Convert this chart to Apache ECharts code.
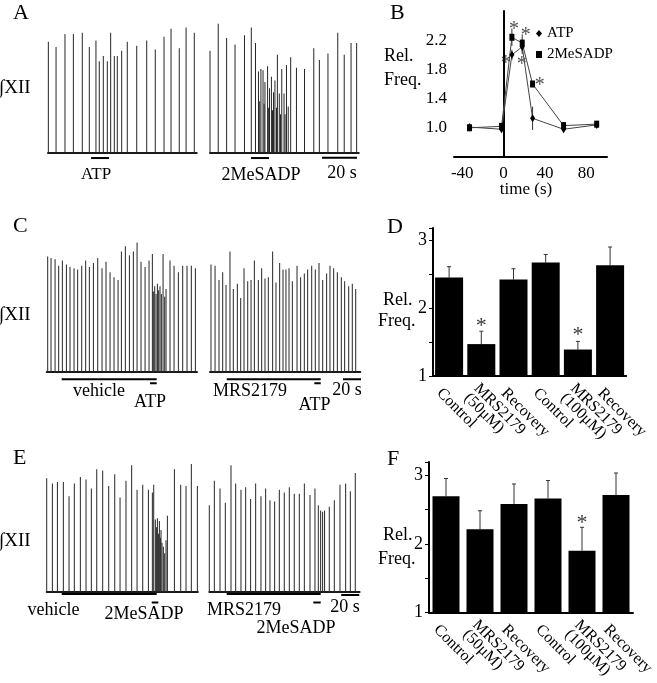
<!DOCTYPE html>
<html>
<head>
<meta charset="utf-8">
<script src="https://cdn.jsdelivr.net/npm/echarts@6/dist/echarts.min.js"></script>
<style>
html, body { margin: 0; padding: 0; background: #fff; }
#main { width: 657px; height: 683px; }
</style>
</head>
<body>
<div id="main"></div>
<script>
const SERIF = '"Liberation Serif", "Times New Roman", serif';

// ---- XII nerve traces: burst times (s) and amplitudes (a.u., tallest = 100)
const a1Time = [0.2, 4.6, 9.7, 14.5, 19.6, 23.6, 27.4, 29.3, 31.6, 33.9, 35.8, 37.9, 39.6, 42.1, 45.3, 50.7, 56.4, 61.3, 66.3, 70.3, 75.0, 78.9, 83.6];
const a1Amp = [86, 82, 92, 92, 93, 82, 87, 71, 75, 71, 93, 75, 75, 79, 86, 83, 87, 80, 90, 96, 81, 97, 93];
const a2Time = [0.0, 4.7, 9.5, 14.3, 19.7, 23.6, 26.0, 27.7, 28.4, 29.1, 30.3, 30.9, 31.4, 32.9, 33.5, 34.0, 35.1, 35.7, 36.3, 37.1, 38.0, 38.5, 39.6, 40.3, 41.0, 42.3, 42.9, 43.7, 44.7, 46.1, 49.4, 54.0, 59.3, 62.5, 67.4, 73.0, 76.7, 80.6, 83.8];
const a2Amp = [79, 100, 89, 84, 91, 97, 85, 63, 40, 65, 64, 38, 55, 67, 35, 50, 59, 33, 47, 56, 35, 76, 46, 30, 65, 46, 30, 68, 36, 74, 66, 65, 81, 72, 77, 93, 76, 85, 85];
const c1Time = [1.1, 4.8, 9.3, 13.3, 17.4, 21.9, 25.9, 30.4, 34.4, 38.9, 43.3, 47.4, 51.9, 56.7, 61.5, 65.9, 70.4, 74.8, 79.3, 83.0, 87.4, 91.9, 96.3, 100.4, 104.8, 109.3, 113.7, 117.4, 118.5, 120.0, 121.5, 123.0, 124.4, 125.9, 127.4, 129.3, 131.1, 132.6, 137.0, 141.5, 146.3, 151.1, 155.9, 160.7, 165.2];
const c1Amp = [89, 88, 87, 82, 86, 83, 81, 80, 79, 82, 86, 81, 84, 88, 80, 85, 77, 73, 71, 93, 97, 90, 93, 100, 85, 81, 86, 91, 62, 66, 60, 68, 63, 66, 60, 91, 58, 64, 86, 82, 77, 82, 82, 82, 80];
const c2Time = [1.1, 5.6, 10.0, 14.1, 17.8, 22.2, 25.9, 30.4, 34.1, 37.8, 41.9, 45.6, 49.3, 53.7, 57.4, 61.1, 64.8, 69.6, 73.3, 77.4, 81.1, 84.4, 87.8, 91.5, 96.7, 100.7, 104.8, 108.5, 113.0, 117.0, 121.1, 125.2, 129.6, 133.3, 137.4, 141.5, 145.9, 149.6, 154.1, 158.1, 161.9];
const c2Amp = [83, 82, 71, 77, 67, 93, 64, 68, 57, 80, 70, 71, 86, 71, 80, 72, 73, 93, 69, 84, 79, 79, 80, 70, 82, 73, 76, 79, 82, 79, 84, 71, 76, 82, 80, 77, 73, 70, 66, 68, 64];
const e1Time = [0.0, 6.3, 11.9, 18.5, 24.8, 30.7, 37.4, 43.7, 49.6, 55.6, 62.2, 68.9, 75.6, 81.5, 88.1, 94.4, 100.4, 106.7, 113.0, 117.4, 118.9, 120.7, 121.9, 123.0, 124.1, 125.2, 126.3, 127.0, 128.1, 129.6, 131.1, 132.6, 134.1, 141.9, 148.9, 154.8, 160.7, 167.4];
const e1Amp = [88, 84, 85, 85, 74, 84, 89, 87, 80, 95, 94, 82, 91, 73, 86, 98, 79, 83, 79, 77, 83, 56, 50, 57, 45, 55, 42, 48, 38, 35, 30, 40, 59, 95, 83, 82, 99, 82];
const e2Time = [0.0, 5.6, 11.9, 17.8, 24.1, 29.3, 35.2, 40.4, 45.9, 51.5, 57.4, 62.6, 67.4, 72.6, 77.8, 83.3, 88.9, 94.4, 100.0, 105.6, 111.9, 117.4, 121.1, 123.7, 125.9, 128.1, 133.3, 138.9, 145.2, 151.5, 156.7, 162.2];
const e2Amp = [67, 86, 80, 69, 98, 84, 79, 81, 72, 84, 74, 80, 71, 70, 79, 77, 81, 76, 76, 84, 75, 80, 67, 63, 62, 63, 66, 71, 83, 84, 78, 92];

// drug application / scale bars [start, end] in s
const a1Atp = [24.6, 34.9];
const a2Mes = [23.4, 33.7];
const aScale = [64, 84];
const c1Vehicle = [16.7, 122.2];
const c1Atp = [114.8, 122.2];
const c2Mrs = [18.6, 123.0];
const c2Atp = [115.9, 123.0];
const cScale = [147.8, 167.8];
const e1Vehicle = [16.7, 122.2];
const e1Mes = [116.7, 124.0];
const e2Mrs = [19.3, 123.8];
const e2Mes = [115.6, 123.8];
const eScale = [146.6, 166.6];

// ---- B: relative frequency time course
const bTime = [-33, -2, 8, 18, 28, 58, 90];
const bAtp = [1.01, 0.98, 2.0, 2.11, 1.13, 0.98, 1.04];
const bAtpErr = [0.03, 0.03, 0.07, 0.1, 0.16, 0.04, 0.03];
const bMes = [1.0, 1.02, 2.24, 2.16, 1.6, 1.03, 1.05];
const bMesErr = [0.03, 0.04, 0.12, 0.12, 0.04, 0.05, 0.03];
const bStars = [[10, 2.35], [2, 1.88], [21.4, 2.26], [17.5, 1.87], [35, 1.58]];

// ---- D, F: bar charts
const cats = ['Control', 'MRS2179\n(50μM)', 'Recovery', 'Control', 'MRS2179\n(100μM)', 'Recovery'];
const dMean = [2.45, 1.47, 2.42, 2.67, 1.39, 2.63];
const dErr = [0.16, 0.19, 0.16, 0.12, 0.12, 0.27];
const dStars = [[1, 1.73], [4, 1.6]];
const fMean = [2.69, 2.21, 2.58, 2.66, 1.90, 2.71];
const fErr = [0.26, 0.27, 0.29, 0.26, 0.34, 0.32];
const fStars = [[4, 2.3]];

const K = 1.293; // px per a.u. on the traces
const traces = [
  { time: a1Time, amp: a1Amp, left: 48, base: 153, dur: 85, pxs: 1.75, ymin: -10, bars: [[a1Atp, -3.9]] },
  { time: a2Time, amp: a2Amp, left: 210, base: 153, dur: 85, pxs: 1.75, ymin: -10, bars: [[a2Mes, -3.9], [aScale, -3.6]] },
  { time: c1Time, amp: c1Amp, left: 46.7, base: 371.7, dur: 167, pxs: 0.9, ymin: -12, bars: [[c1Vehicle, -5.9], [c1Atp, -9]] },
  { time: c2Time, amp: c2Amp, left: 210, base: 371.7, dur: 167, pxs: 0.9, ymin: -12, bars: [[c2Mrs, -5.9], [c2Atp, -9], [cScale, -5.9]] },
  { time: e1Time, amp: e1Amp, left: 46.7, base: 592, dur: 168, pxs: 0.9, ymin: -12, bars: [[e1Vehicle, -1.6], [e1Mes, -8.1]] },
  { time: e2Time, amp: e2Amp, left: 209.3, base: 592, dur: 167, pxs: 0.9, ymin: -12, bars: [[e2Mrs, -1.6], [e2Mes, -8.1], [eScale, -2.4]] },
];

const grid = [], xAxis = [], yAxis = [], series = [];

traces.forEach((tr, i) => {
  grid.push({ left: tr.left, top: tr.base - 100 * K, width: tr.dur * tr.pxs, height: (100 - tr.ymin) * K, outerBoundsMode: 'none' });
  xAxis.push({
    gridIndex: i, type: 'value', min: 0, max: tr.dur,
    axisLine: { show: true, onZero: true, lineStyle: { color: '#1a1a1a', width: 2 } },
    axisTick: { show: false }, axisLabel: { show: false }, splitLine: { show: false },
  });
  yAxis.push({ gridIndex: i, type: 'value', min: tr.ymin, max: 100, show: false, splitLine: { show: false } });
  series.push({
    type: 'bar', xAxisIndex: i, yAxisIndex: i, silent: true, barWidth: 1,
    itemStyle: { color: '#262626' },
    data: tr.time.map((t, k) => [t, tr.amp[k]]),
  });
  tr.bars.forEach(([span, lvl]) => {
    series.push({
      type: 'line', xAxisIndex: i, yAxisIndex: i, silent: true, clip: false, symbol: 'none',
      lineStyle: { color: '#000', width: 2 },
      data: [[span[0], lvl], [span[1], lvl]],
    });
  });
});

// B
const bi = grid.length;
grid.push({ left: 454, top: 11, width: 153, height: 146, outerBoundsMode: 'none' });
xAxis.push({
  gridIndex: bi, type: 'value', min: -48, max: 100, interval: 8,
  axisLine: { lineStyle: { color: '#000', width: 2 } },
  axisTick: { show: false }, splitLine: { show: false },
  axisLabel: { margin: 8, fontSize: 17, fontFamily: SERIF, color: '#000',
    formatter: v => (Math.round(v) % 40 === 0 ? String(Math.round(v)) : '') },
});
yAxis.push({
  gridIndex: bi, type: 'value', min: 0.6, max: 2.6, interval: 0.4,
  axisLine: { show: true, lineStyle: { color: '#000', width: 2 } },
  axisTick: { show: false }, splitLine: { show: false },
  axisLabel: { margin: 7, fontSize: 17, fontFamily: SERIF, color: '#000',
    formatter: v => (v < 0.9 || v > 2.5 ? '' : v.toFixed(1)) },
});

function errB(vals, errs) {
  return {
    type: 'custom', xAxisIndex: bi, yAxisIndex: bi, silent: true,
    data: bTime.map((t, i) => [t, vals[i] - errs[i], vals[i] + errs[i]]),
    renderItem: (params, api) => {
      const p0 = api.coord([api.value(0), api.value(1)]);
      const p1 = api.coord([api.value(0), api.value(2)]);
      return { type: 'line', shape: { x1: p0[0], y1: p0[1], x2: p1[0], y2: p1[1] }, style: { stroke: '#333', lineWidth: 1 } };
    },
  };
}
series.push(errB(bAtp, bAtpErr), errB(bMes, bMesErr));
series.push({
  name: 'ATP', type: 'line', xAxisIndex: bi, yAxisIndex: bi, silent: true,
  symbol: 'diamond', symbolSize: [5, 8], itemStyle: { color: '#000' },
  lineStyle: { color: '#444', width: 1 },
  data: bTime.map((t, i) => [t, bAtp[i]]),
});
series.push({
  name: '2MeSADP', type: 'line', xAxisIndex: bi, yAxisIndex: bi, silent: true,
  symbol: 'rect', symbolSize: [5, 7], itemStyle: { color: '#000' },
  lineStyle: { color: '#444', width: 1 },
  data: bTime.map((t, i) => [t, bMes[i]]),
});
series.push({
  type: 'scatter', xAxisIndex: bi, yAxisIndex: bi, silent: true, symbolSize: 0,
  label: { show: true, position: 'inside', formatter: '*', fontSize: 20, fontFamily: SERIF, color: '#222' },
  data: bStars,
});

// D and F
function barPanel(left, top, width, height, max, means, errs, stars, barW) {
  const gi = grid.length;
  grid.push({ left, top, width, height, outerBoundsMode: 'none' });
  xAxis.push({
    gridIndex: gi, type: 'category', data: cats,
    axisLine: { lineStyle: { color: '#000', width: 2 } },
    axisTick: { show: false },
    axisLabel: { interval: 0, rotate: -45, margin: 5, fontSize: 16, lineHeight: 14,
      fontFamily: SERIF, color: '#000', formatter: v => '\n\n' + v },
  });
  yAxis.push({
    gridIndex: gi, type: 'value', min: 1, max: max, interval: 0.5,
    axisLine: { show: true, lineStyle: { color: '#000', width: 2 } },
    axisTick: { show: true, length: 4, lineStyle: { color: '#000', width: 1 } },
    splitLine: { show: false },
    axisLabel: { margin: 6, fontSize: 18, fontFamily: SERIF, color: '#000',
      formatter: v => (Math.abs(v - Math.round(v)) < 1e-6 ? String(Math.round(v)) : '') },
  });
  series.push({
    type: 'bar', xAxisIndex: gi, yAxisIndex: gi, silent: true, barWidth: barW,
    itemStyle: { color: '#000' }, data: means,
  });
  series.push({
    type: 'custom', xAxisIndex: gi, yAxisIndex: gi, silent: true,
    data: means.map((m, i) => [i, m, m + errs[i]]),
    renderItem: (params, api) => {
      const p0 = api.coord([api.value(0), api.value(1)]);
      const p1 = api.coord([api.value(0), api.value(2)]);
      return { type: 'group', children: [
        { type: 'line', shape: { x1: p0[0], y1: p0[1], x2: p1[0], y2: p1[1] }, style: { stroke: '#333', lineWidth: 1 } },
        { type: 'line', shape: { x1: p1[0] - 2, y1: p1[1], x2: p1[0] + 2, y2: p1[1] }, style: { stroke: '#333', lineWidth: 1 } },
      ] };
    },
  });
  series.push({
    type: 'scatter', xAxisIndex: gi, yAxisIndex: gi, silent: true, symbolSize: 0,
    label: { show: true, position: 'inside', formatter: '*', fontSize: 22, fontFamily: SERIF, color: '#000' },
    data: stars,
  });
}
barPanel(433, 228, 193.2, 148, 3.18, dMean, dErr, dStars, 28);
barPanel(429, 462, 204, 150.5, 3.19, fMean, fErr, fStars, 27);

// free text: panel letters, trace names, drug labels
const texts = [
  ['A', 13, 13, 22, 'left'], ['B', 390, 13, 22, 'left'], ['C', 13, 226, 22, 'left'],
  ['D', 387, 227, 22, 'left'], ['E', 13, 458, 22, 'left'], ['F', 387, 459, 22, 'left'],
  ['∫XII', -1, 88, 19, 'left'], ['∫XII', -1, 315, 19, 'left'], ['∫XII', -1, 541.5, 19, 'left'],
  ['ATP', 96, 175, 17, 'center'], ['2MeSADP', 261, 175, 18, 'center'], ['20 s', 342, 173, 18, 'center'],
  ['Rel.', 384, 56, 18, 'left'], ['Freq.', 384, 80.5, 18, 'left'], ['time (s)', 526, 190, 17, 'center'],
  ['vehicle', 99, 391, 18, 'center'], ['ATP', 150, 402, 18, 'center'], ['MRS2179', 250, 391, 18, 'center'],
  ['ATP', 314.5, 405, 18, 'center'], ['20 s', 347, 390, 18, 'center'],
  ['Rel.', 383, 300, 18, 'left'], ['Freq.', 378, 321, 18, 'left'],
  ['vehicle', 53.5, 610, 18, 'center'], ['2MeSADP', 144, 614.5, 18, 'center'], ['MRS2179', 244, 610, 18, 'center'],
  ['2MeSADP', 296, 628.5, 18, 'center'], ['20 s', 345, 607, 18, 'center'],
  ['Rel.', 383, 535, 18, 'left'], ['Freq.', 378, 559, 18, 'left'],
];

const chart = echarts.init(document.getElementById('main'));
chart.setOption({
  animation: false,
  backgroundColor: '#fff',
  grid, xAxis, yAxis, series,
  legend: {
    left: 536, top: 26, orient: 'vertical', itemWidth: 6, itemHeight: 7, itemGap: 6, padding: 0,
    textStyle: { fontSize: 15, fontFamily: SERIF, color: '#000' },
    data: [{ name: 'ATP', icon: 'diamond' }, { name: '2MeSADP', icon: 'rect' }],
  },
  graphic: texts.map(([text, x, y, size, align]) => ({
    type: 'text', silent: true,
    style: { text, x, y, fill: '#000', font: size + 'px ' + SERIF, align, verticalAlign: 'middle' },
  })),
});
</script>
</body>
</html>
